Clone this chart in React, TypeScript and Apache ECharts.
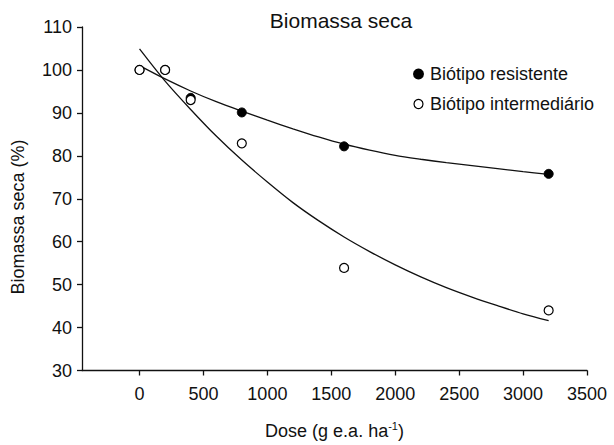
import React, { useEffect, useRef } from "react";
import * as echarts from "echarts";

// Observed data (dose in g e.a. ha-1, biomass %)
const doses = [0, 200, 400, 800, 1600, 3200];
const resistente = [100, 100, 93.5, 90.1, 82.2, 75.8];
const intermediario = [100, 100, 93, 82.9, 53.9, 44];

// Fitted curves
const curveDoses = [0, 200, 400, 600, 800, 1000, 1200, 1400, 1600, 1800, 2000, 2200, 2400, 2600, 2800, 3000, 3200];
const curveResistente = [101.0, 97.9, 95.1, 92.6, 90.4, 88.3, 86.3, 84.4, 82.7, 81.3, 80.1, 79.2, 78.4, 77.7, 77.0, 76.3, 75.7];
const curveIntermediario = [104.9, 97.4, 90.8, 84.6, 79.0, 73.9, 69.1, 64.9, 61.1, 57.7, 54.6, 51.8, 49.3, 47.1, 45.1, 43.2, 41.6];

const xTicks = [0, 500, 1000, 1500, 2000, 2500, 3000, 3500];

const FONT = "'Liberation Sans', Arial, sans-serif";

const pairs = (xs: number[], ys: number[]) => xs.map((x, i) => [x, ys[i]]);

export default function App() {
  const ref = useRef<HTMLDivElement>(null);
  useEffect(() => {
    if (!ref.current) return;
    const chart = echarts.init(ref.current, null, { renderer: "svg" });
    chart.setOption({
      animation: false,
      backgroundColor: "#ffffff",
      textStyle: { fontFamily: FONT, color: "#111" },
      grid: { left: 82, right: 27, top: 27, bottom: 67, containLabel: false },
      graphic: [
        {
          type: "text",
          x: 341,
          y: 20,
          style: {
            text: "Biomassa seca",
            fontFamily: FONT,
            fontSize: 21,
            fill: "#111",
            textAlign: "center",
            textVerticalAlign: "middle",
          },
        },
        {
          type: "text",
          x: 18,
          y: 217,
          rotation: Math.PI / 2,
          style: {
            text: "Biomassa seca (%)",
            fontFamily: FONT,
            fontSize: 18,
            fill: "#111",
            textAlign: "center",
            textVerticalAlign: "middle",
          },
        },
      ],
      legend: {
        orient: "vertical",
        left: 408,
        top: 60,
        itemWidth: 9,
        itemHeight: 9,
        itemGap: 12,
        data: [
          { name: "Biótipo resistente", icon: "circle", itemStyle: { color: "#000", opacity: 1 } },
          { name: "Biótipo intermediário", icon: "circle", itemStyle: { color: "#fff", borderColor: "#000", borderWidth: 1.2, opacity: 1 } },
        ],
        textStyle: { fontFamily: FONT, fontSize: 18, color: "#111", padding: [0, 0, 0, 2] },
      },
      xAxis: {
        type: "value",
        min: -450,
        max: 3500,
        splitLine: { show: false },
        axisLine: { show: true, onZero: false, lineStyle: { color: "#111", width: 1.3 } },
        axisTick: { show: true, length: 5, inside: false, customValues: xTicks, lineStyle: { color: "#111", width: 1.3 } },
        axisLabel: {
          customValues: xTicks,
          fontSize: 18,
          color: "#111",
          margin: 14,
          fontFamily: FONT,
          formatter: (v: number) => String(v),
        },
        name: "Dose (g e.a. ha{sup|-1})",
        nameLocation: "middle",
        nameGap: 50,
        nameTextStyle: {
          fontFamily: FONT,
          fontSize: 18,
          color: "#111",
          rich: { sup: { fontSize: 11, verticalAlign: "top", padding: [0, 0, 10, 0], fontFamily: FONT, color: "#111" } },
        },
      },
      yAxis: {
        type: "value",
        min: 30,
        max: 110,
        interval: 10,
        splitLine: { show: false },
        axisLine: { show: true, onZero: false, lineStyle: { color: "#111", width: 1.3 } },
        axisTick: { show: true, length: 5, inside: false, lineStyle: { color: "#111", width: 1.3 } },
        axisLabel: { fontSize: 18, color: "#111", margin: 10, fontFamily: FONT },
      },
      series: [
        {
          name: "curva resistente",
          type: "line",
          smooth: 0.3,
          symbol: "none",
          data: pairs(curveDoses, curveResistente),
          lineStyle: { color: "#111", width: 1.3 },
          z: 1,
        },
        {
          name: "curva intermediário",
          type: "line",
          smooth: 0.3,
          symbol: "none",
          data: pairs(curveDoses, curveIntermediario),
          lineStyle: { color: "#111", width: 1.3 },
          z: 1,
        },
        {
          name: "Biótipo resistente",
          type: "scatter",
          symbol: "circle",
          symbolSize: 9,
          data: pairs(doses, resistente),
          itemStyle: { color: "#000", borderColor: "#000", borderWidth: 1, opacity: 1 },
          z: 2,
        },
        {
          name: "Biótipo intermediário",
          type: "scatter",
          symbol: "circle",
          symbolSize: 9,
          data: pairs(doses, intermediario),
          itemStyle: { color: "#fff", borderColor: "#000", borderWidth: 1.2, opacity: 1 },
          z: 3,
        },
      ],
    });
    return () => chart.dispose();
  }, []);
  return (
    <div
      ref={ref}
      style={{ position: "fixed", left: 0, top: 0, width: 614, height: 445, background: "#fff" }}
    />
  );
}
